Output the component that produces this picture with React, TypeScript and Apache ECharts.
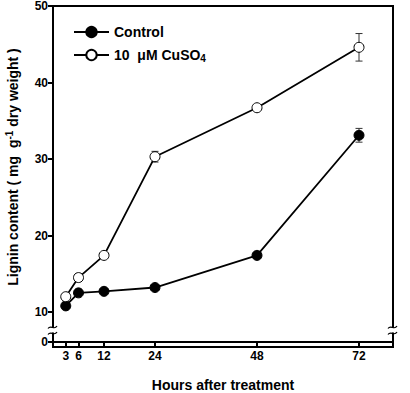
import React, { useEffect, useRef } from "react";
import * as echarts from "echarts";

// Sampling times (hours after treatment)
const hours = [3, 6, 12, 24, 48, 72];
const xTicks = [3, 6, 12, 24, 48, 72];
const yTicks = [10, 20, 30, 40, 50];

// Lignin content (mg g-1 dry weight)
const controlValues = [10.8, 12.5, 12.7, 13.2, 17.4, 33.1];
const controlErrors = [0.2, 0.2, 0.2, 0.2, 0.2, 0.9];
const cuso4Values = [12.0, 14.5, 17.4, 30.3, 36.7, 44.6];
const cuso4Errors = [0.2, 0.2, 0.2, 0.7, 0.3, 1.8];

const seriesNames = ["Control", "10  μM CuSO4"];

const FONT = "Liberation Sans, Arial, sans-serif";

const GRID_LEFT = 53;
const GRID_RIGHT = 17;
const TOP_GRID_TOP = 6;
const TOP_GRID_H = 306;
const BOTTOM_GRID_H = 35;
const W = 410;
const H = 393;

function errorBarSeries(values: number[], errors: number[]) {
  return {
    type: "custom",
    xAxisIndex: 0,
    yAxisIndex: 0,
    z: 1,
    silent: true,
    data: hours.map((h, i) => [h, values[i] - errors[i], values[i] + errors[i]]),
    renderItem: (params: any, api: any) => {
      const x = api.value(0);
      const lo = api.coord([x, api.value(1)]);
      const hi = api.coord([x, api.value(2)]);
      const cap = 3.5;
      const style = { stroke: "#333", lineWidth: 1 };
      return {
        type: "group",
        children: [
          { type: "line", shape: { x1: lo[0], y1: lo[1], x2: hi[0], y2: hi[1] }, style },
          { type: "line", shape: { x1: lo[0] - cap, y1: lo[1], x2: lo[0] + cap, y2: lo[1] }, style },
          { type: "line", shape: { x1: hi[0] - cap, y1: hi[1], x2: hi[0] + cap, y2: hi[1] }, style },
        ],
      };
    },
  };
}

// Axis-break squiggles on the vertical frame lines
function breakMarks(x: number, y: number) {
  const s = { stroke: "#000", lineWidth: 1.2, fill: "none" };
  return [
    { type: "rect", shape: { x: x - 2, y: y - 2.5, width: 4, height: 5 }, style: { fill: "#fff" }, z: 100 },
    {
      type: "bezierCurve",
      shape: { x1: x - 5, y1: y - 1.5, cpx1: x - 2, cpy1: y - 6, cpx2: x + 1, cpy2: y + 1, x2: x + 4, y2: y - 4 },
      style: s,
      z: 101,
    },
    {
      type: "bezierCurve",
      shape: { x1: x - 5, y1: y + 4.5, cpx1: x - 2, cpy1: y, cpx2: x + 1, cpy2: y + 7, x2: x + 4, y2: y + 2 },
      style: s,
      z: 101,
    },
  ];
}

export default function App() {
  const ref = useRef<HTMLDivElement>(null);

  useEffect(() => {
    if (!ref.current) return;
    const chart = echarts.init(ref.current, undefined, { renderer: "svg" });

    const line = () => ({ show: true, onZero: false, lineStyle: { color: "#000", width: 2 } });
    const tickLabel = () => ({ color: "#000", fontFamily: FONT, fontWeight: "bold" as const, fontSize: 12 });
    const breakY = TOP_GRID_TOP + TOP_GRID_H + 18;
    const frameBottom = H - (TOP_GRID_TOP + TOP_GRID_H + BOTTOM_GRID_H);

    chart.setOption({
      animation: false,
      backgroundColor: "#fff",
      grid: [
        { left: GRID_LEFT, right: GRID_RIGHT, top: TOP_GRID_TOP, height: TOP_GRID_H },
        { left: GRID_LEFT, right: GRID_RIGHT, top: TOP_GRID_TOP + TOP_GRID_H, height: BOTTOM_GRID_H },
        // outer frame around the whole plot area
        {
          left: GRID_LEFT,
          right: GRID_RIGHT,
          top: TOP_GRID_TOP,
          bottom: frameBottom,
          show: true,
          backgroundColor: "transparent",
          borderColor: "#000",
          borderWidth: 2,
        },
      ],
      xAxis: [
        {
          type: "value",
          gridIndex: 0,
          position: "top",
          min: 0,
          max: 80,
          axisLine: line(),
          axisTick: { show: false },
          axisLabel: { show: false },
          splitLine: { show: false },
        },
        {
          type: "value",
          gridIndex: 1,
          position: "bottom",
          min: 0,
          max: 80,
          axisLine: line(),
          axisTick: { show: true, length: 5, lineStyle: { color: "#000", width: 2 }, customValues: xTicks },
          axisLabel: { ...tickLabel(), margin: 8, customValues: xTicks },
          splitLine: { show: false },
          name: "Hours after treatment",
          nameLocation: "middle",
          nameGap: 36,
          nameTextStyle: { color: "#000", fontFamily: FONT, fontWeight: "bold", fontSize: 14 },
        },
      ],
      yAxis: [
        {
          type: "value",
          gridIndex: 0,
          position: "left",
          min: 10,
          max: 50,
          interval: 10,
          axisLine: line(),
          axisTick: { show: true, length: 5, lineStyle: { color: "#000", width: 2 }, customValues: yTicks },
          axisLabel: { ...tickLabel(), margin: 5, customValues: yTicks },
          splitLine: { show: false },
        },
        {
          type: "value",
          gridIndex: 0,
          position: "right",
          min: 10,
          max: 50,
          axisLine: line(),
          axisTick: { show: false },
          axisLabel: { show: false },
          splitLine: { show: false },
        },
        {
          type: "value",
          gridIndex: 1,
          position: "left",
          min: 0,
          max: 1,
          interval: 1,
          axisLine: line(),
          axisTick: { show: true, length: 5, lineStyle: { color: "#000", width: 2 }, customValues: [0] },
          axisLabel: { ...tickLabel(), margin: 5, customValues: [0] },
          splitLine: { show: false },
        },
        {
          type: "value",
          gridIndex: 1,
          position: "right",
          min: 0,
          max: 1,
          axisLine: line(),
          axisTick: { show: false },
          axisLabel: { show: false },
          splitLine: { show: false },
        },
      ],
      legend: {
        orient: "vertical",
        left: 68,
        top: 20,
        itemWidth: 35,
        itemHeight: 13,
        itemGap: 8,
        data: seriesNames,
        selectedMode: false,
        formatter: (name: string) =>
          name === "Control" ? "{t|Control}" : "{t|10  μM CuSO}{sub|4}",
        textStyle: {
          color: "#000",
          rich: {
            t: { fontFamily: FONT, fontWeight: "bold", fontSize: 14, color: "#000", lineHeight: 16 },
            sub: { fontFamily: FONT, fontWeight: "bold", fontSize: 10, color: "#000", verticalAlign: "bottom", lineHeight: 16, padding: [6, 0, 0, 0] },
          },
        },
      },
      graphic: [
        {
          type: "text",
          x: 13,
          y: 167,
          rotation: Math.PI / 2,
          style: {
            text: "{a|Lignin content ( mg  g}{s|-1}{a| dry weight )}",
            align: "center",
            verticalAlign: "middle",
            rich: {
              a: { fontFamily: FONT, fontWeight: "bold", fontSize: 14, fill: "#000", lineHeight: 18 },
              s: { fontFamily: FONT, fontWeight: "bold", fontSize: 10, fill: "#000", lineHeight: 18, verticalAlign: "top", padding: [0, 0, 6, 0] },
            },
          },
        },
        ...breakMarks(GRID_LEFT, breakY),
        ...breakMarks(W - GRID_RIGHT, breakY),
      ],
      series: [
        errorBarSeries(controlValues, controlErrors),
        errorBarSeries(cuso4Values, cuso4Errors),
        {
          name: seriesNames[0],
          type: "line",
          xAxisIndex: 0,
          yAxisIndex: 0,
          z: 3,
          data: hours.map((h, i) => [h, controlValues[i]]),
          symbol: "circle",
          symbolSize: 10,
          showAllSymbol: true,
          lineStyle: { color: "#000", width: 1.8 },
          itemStyle: { color: "#000", borderColor: "#000", borderWidth: 1 },
        },
        {
          name: seriesNames[1],
          type: "line",
          xAxisIndex: 0,
          yAxisIndex: 0,
          z: 3,
          data: hours.map((h, i) => [h, cuso4Values[i]]),
          symbol: "circle",
          symbolSize: 10,
          showAllSymbol: true,
          lineStyle: { color: "#000", width: 1.8 },
          itemStyle: { color: "#fff", borderColor: "#000", borderWidth: 1 },
        },
      ],
    });

    return () => chart.dispose();
  }, []);

  return <div ref={ref} style={{ width: W, height: H, position: "absolute", left: 0, top: 0 }} />;
}
